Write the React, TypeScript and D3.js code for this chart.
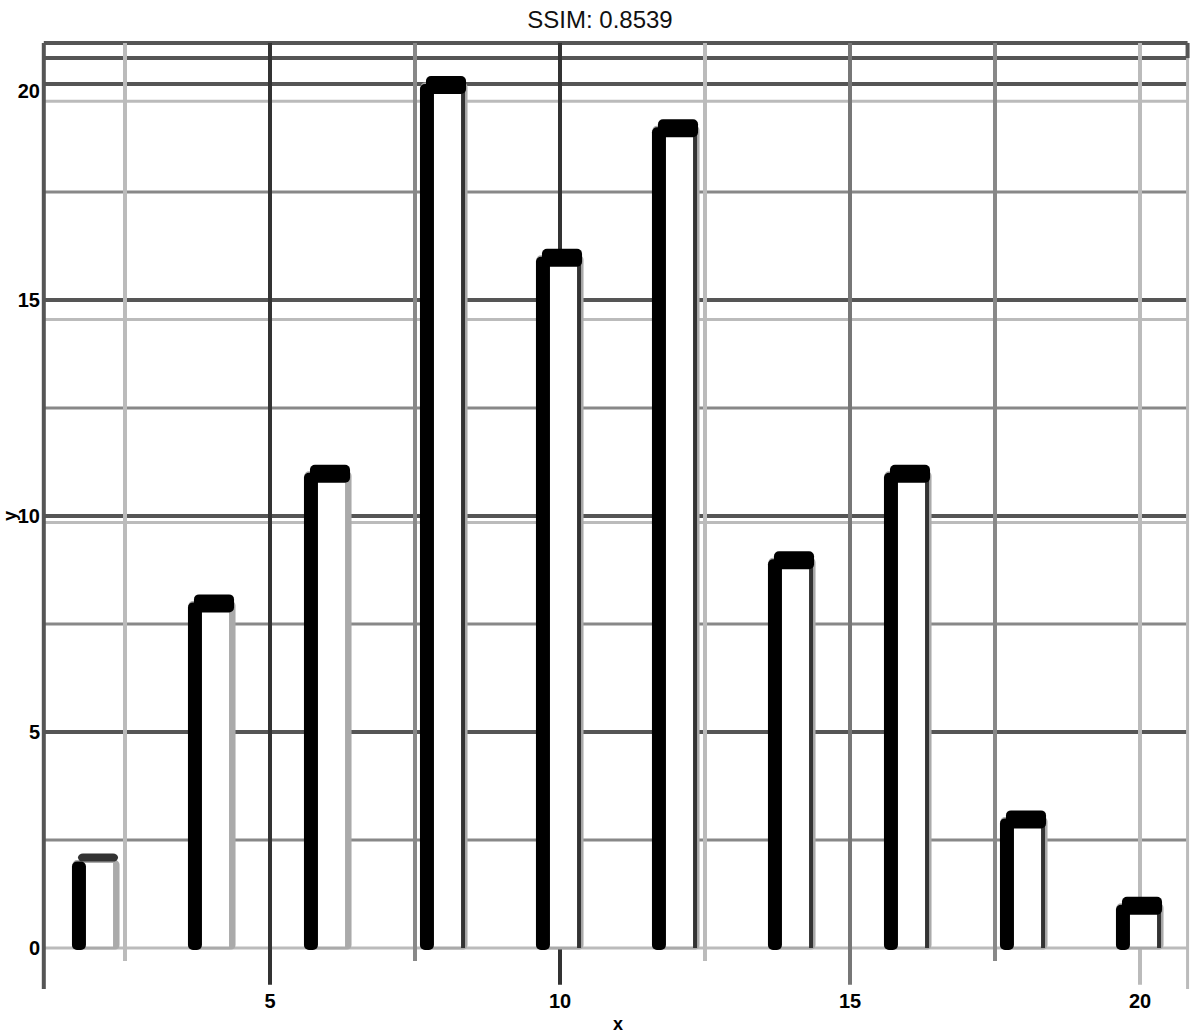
import React from "react";
import * as d3 from "d3";

const barX = [2, 4, 6, 8, 10, 12, 14, 16, 18, 20];
const barY = [2, 8, 11, 20, 16, 19, 9, 11, 3, 1];
const xTicks = [5, 10, 15, 20];
const xMinor = [2.5, 7.5, 12.5, 17.5];
const yTicks = [0, 5, 10, 15, 20];
const yMinor = [2.5, 7.5, 12.5, 17.5];
const title = "SSIM: 0.8539";

export default function App() {
  const W = 1200, H = 1034;
  const x = d3.scaleLinear().domain([5, 20]).range([270, 1140]);
  const y = d3.scaleLinear().domain([0, 20]).range([948, 84]);
  const xL = x(1.1), xR = x(20.82);
  const yT = y(20.95), yB = y(-0.95);
  const bw = x(0.76) - x(0);
  const dark = "#555";
  const light = "#bbb";
  return (
    <svg width={W} height={H} style={{ position: "absolute", left: 0, top: 0, background: "#fff" }}
      fontFamily="Liberation Sans, Arial, sans-serif">
      <rect width={W} height={H} fill="#fff" />
      <text x={600} y={28} textAnchor="middle" fontSize={24} fill="#111">{title}</text>
      {/* minor horizontal */}
      {yMinor.map((v) => (
        <line key={"ym" + v} x1={xL} x2={xR} y1={y(v)} y2={y(v)} stroke="#888" strokeWidth={3} />
      ))}
      {/* light echo lines */}
      {[19.6, 14.55, 9.85, 0].map((v) => (
        <line key={"ye" + v} x1={xL} x2={xR} y1={y(v)} y2={y(v)} stroke={light} strokeWidth={3} />
      ))}
      {/* major horizontal */}
      {yTicks.filter((v) => v > 0).map((v) => (
        <line key={"y" + v} x1={xL} x2={xR} y1={y(v)} y2={y(v)} stroke={dark} strokeWidth={4} />
      ))}
      <line x1={xL} x2={xR} y1={y(20.6)} y2={y(20.6)} stroke={dark} strokeWidth={4} />
      <line x1={xL} x2={xR} y1={yT} y2={yT} stroke={dark} strokeWidth={4} />
      {/* minor vertical */}
      {xMinor.map((v, i) => (
        <line key={"xm" + v} x1={x(v)} x2={x(v)} y1={yT} y2={y(-0.3)}
          stroke={i % 2 === 0 ? light : "#888"} strokeWidth={4} />
      ))}
      {/* major vertical */}
      {xTicks.map((v, i) => (
        <line key={"x" + v} x1={x(v)} x2={x(v)} y1={yT} y2={y(-0.85)}
          stroke={i < 2 ? "#333" : i === 2 ? "#777" : light} strokeWidth={4} />
      ))}
      <line x1={xL} x2={xL} y1={yT} y2={yB} stroke={dark} strokeWidth={4} />
      <line x1={xR} x2={xR} y1={yT} y2={y(-0.95)} stroke={light} strokeWidth={3} />
      <line x1={xR} x2={xR} y1={yT} y2={y(20.6)} stroke={dark} strokeWidth={4} />
      {/* bars */}
      {barX.map((v, i) => {
        const left = x(v) - bw / 2;
        const top = y(barY[i]);
        const h = y(0) - top;
        const edge = i < 3 ? "#aaa" : "#333";
        return (
          <g key={"b" + i}>
            <rect x={left} y={top} width={bw} height={h} rx={3} fill="#fff" stroke="#aaa" strokeWidth={3} />
            <rect x={left + bw - 5} y={top} width={4} height={h} fill={edge} />
            <rect x={left - 2} y={top} width={14} height={h + 2} rx={5} fill="#000" />
            <rect x={left + 4} y={top - 8} width={bw - 4} height={i === 0 ? 8 : 18} rx={5}
              fill={i === 0 ? "#333" : "#000"} />
          </g>
        );
      })}
      {/* y tick labels */}
      {yTicks.map((v) => (
        <text key={"yl" + v} x={40} y={y(v) + (v === 20 ? 14 : 7)} textAnchor="end" fontSize={20}
          fontWeight="bold" fill="#000">{v}</text>
      ))}
      {/* x tick labels */}
      {xTicks.map((v) => (
        <text key={"xl" + v} x={x(v)} y={1008} textAnchor="middle" fontSize={20} fontWeight="bold" fill="#000">{v}</text>
      ))}
      <text x={618} y={1030} textAnchor="middle" fontSize={18} fontWeight="bold" fill="#000">x</text>
      <text transform={`translate(16,${y(10)}) rotate(-90)`} textAnchor="middle" fontSize={18} fontWeight="bold" fill="#000">y</text>
    </svg>
  );
}
